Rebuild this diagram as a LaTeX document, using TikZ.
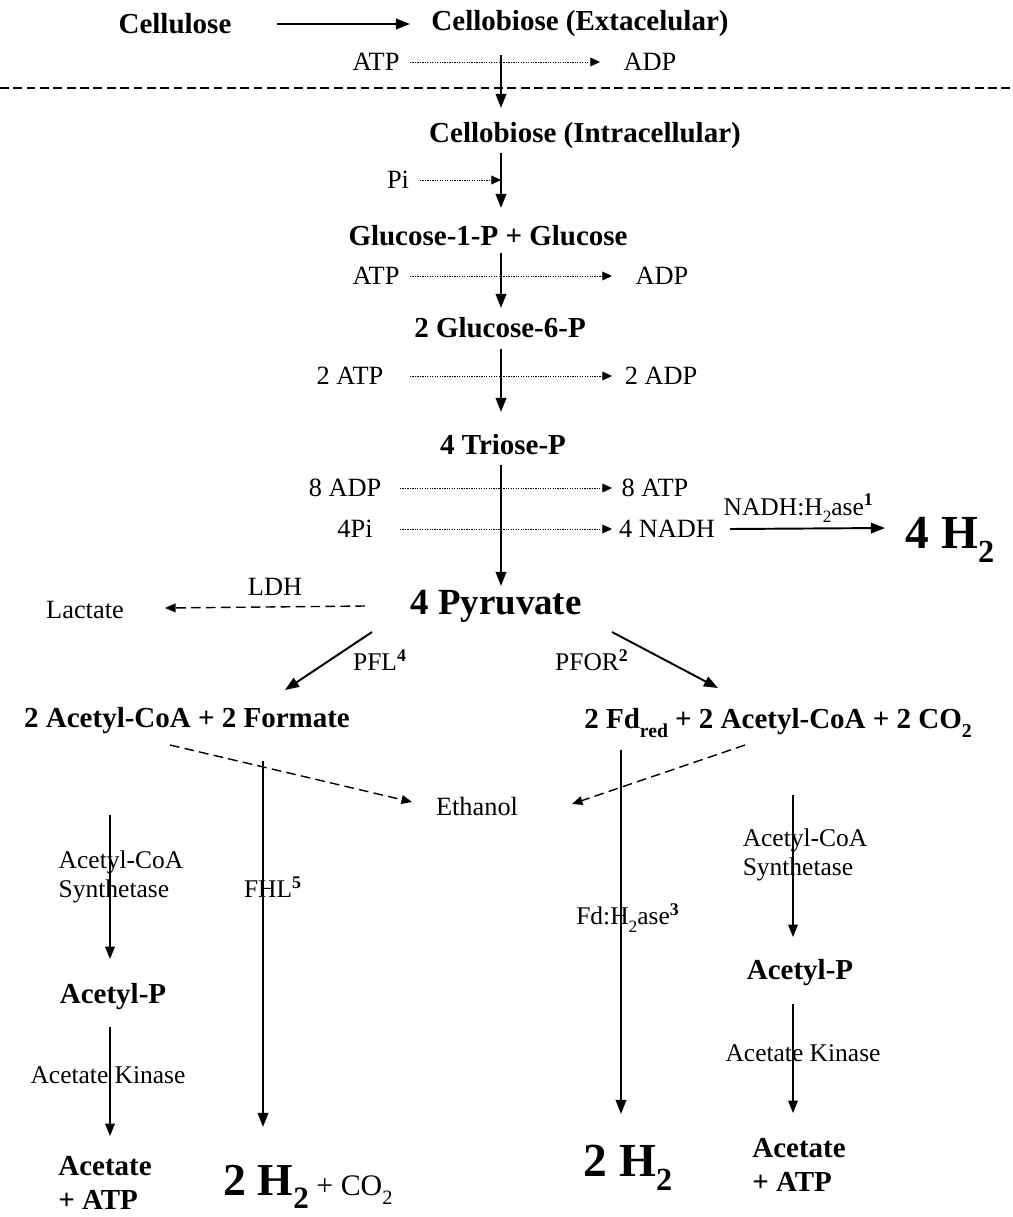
\documentclass[tikz,border=0pt]{standalone}
\usepackage{fontspec}
\setmainfont{Liberation Serif}
\usetikzlibrary{arrows.meta,positioning,calc}
\newcommand\lowr[1]{\raisebox{-0.62ex}{\scalebox{0.68}{#1}}}
\tikzset{
  cpd/.style={font=\bfseries\fontsize{16.5}{19}\selectfont,inner sep=2pt,align=left},
  pyrv/.style={font=\bfseries\fontsize{21}{24}\selectfont,inner sep=2pt},
  hyd/.style={font=\bfseries\fontsize{27}{30}\selectfont,inner sep=2pt},
  cof/.style={font=\fontsize{15}{17}\selectfont,inner sep=2pt},
  enz/.style={font=\fontsize{14.5}{16.5}\selectfont,inner sep=1pt,align=left},
  rxn/.style={-{Triangle[length=8pt,width=6pt]},line width=1.1pt},
  slim/.style={-{Triangle[length=7pt,width=5.5pt]},line width=0.6pt},
  dots/.style={-{Triangle[length=5.5pt,width=5pt]},line width=0.5pt,dash pattern=on 0.7pt off 0.7pt},
  alt/.style={-{Triangle[length=6pt,width=5pt]},line width=0.8pt,dash pattern=on 5.5pt off 3pt},
}
\begin{document}
\begin{tikzpicture}[x=0.02cm,y=-0.02cm]
  \useasboundingbox (0,0) rectangle (1012,1217);
  \coordinate (axis) at (501,0);

  % uptake of cellobiose
  \node[cpd] (cellu) at (175,24) {Cellulose};
  \node[cpd] (cbx) at (580,24) {Cellobiose (Extacelular)};
  \draw[rxn] ($(cellu)+(102,0)$) -- ($(cbx)+(-170,0)$);
  \node[cof] (atp1) at (376,62) {ATP};
  \node[cof] (adp1) at (650,62) {ADP};
  \draw[dashed,line width=0.6pt,dash pattern=on 5pt off 2.6pt] (0,88) -- (1012,88);
  \node[cpd] (cbi) at (585,136) {Cellobiose (Intracellular)};
  \draw[rxn] ($(cbx -| axis)+(0,31)$) -- ($(cbi -| axis)+(0,-28)$);
  \draw[dots] ($(atp1)+(34,0)$) -- ($(adp1)+(-50,0)$);

  % glycolysis
  \node[cof] (pi) at (398,180) {Pi};
  \node[cpd] (g1p) at (488,236) {Glucose-1-P + Glucose};
  \draw[rxn] ($(cbi -| axis)+(0,17)$) -- ($(g1p -| axis)+(0,-28)$);
  \draw[dots] ($(pi)+(22,0)$) -- (pi -| axis);
  \node[cof] (atp2) at (376,276) {ATP};
  \node[cof] (adp2) at (662,276) {ADP};
  \node[cpd] (g6p) at (500,328) {2 Glucose-6-P};
  \draw[rxn] ($(g1p -| axis)+(0,17)$) -- ($(g6p -| axis)+(0,-20)$);
  \draw[dots] ($(atp2)+(34,0)$) -- ($(adp2)+(-50,0)$);
  \node[cof] (atp3) at (350,376) {2 ATP};
  \node[cof] (adp3) at (661,376) {2 ADP};
  \node[cpd] (tri) at (503,445) {4 Triose-P};
  \draw[rxn] ($(g6p -| axis)+(0,21)$) -- ($(tri -| axis)+(0,-33)$);
  \draw[dots] ($(atp3)+(60,0)$) -- ($(adp3)+(-49,0)$);
  \node[cof] (adp4) at (345,488) {8 ADP};
  \node[cof] (atp4) at (655,488) {8 ATP};
  \node[cof] (pi4) at (355,529) {4Pi};
  \node[cof] (nadh) at (667,529) {4 NADH};
  \node[hyd] (h2a) at (950,540) {4 H\lowr{2}};
  \draw[rxn] ($(nadh)+(63,0)$) -- ($(h2a)+(-65,-12)$)
    node[enz,midway,above=2pt,xshift=-5pt] (nadhase) {NADH:H\lowr{2}ase\textsuperscript{\bfseries 1}};
  \node[pyrv] (pyr) at (496,606) {4 Pyruvate};
  \draw[rxn] ($(tri -| axis)+(0,20)$) -- ($(pyr -| axis)+(0,-20)$);
  \draw[dots] ($(adp4)+(55,0)$) -- ($(atp4)+(-43,0)$);
  \draw[dots] ($(pi4)+(45,0)$) -- ($(nadh)+(-55,0)$);

  % pyruvate branches
  \node[cof] (lac) at (85,610) {Lactate};
  \node[cof] (ldh) at (275,587) {LDH};
  \draw[alt] ($(pyr)+(-131,0)$) -- ($(lac)+(80,-2)$);
  \node[enz] (pfl) at (380,660) {PFL\textsuperscript{\bfseries 4}};
  \node[enz] (pfor) at (592,660) {PFOR\textsuperscript{\bfseries 2}};
  \node[cpd] (acf) at (187,721) {2 Acetyl-CoA + 2 Formate};
  \node[cpd] (fdr) at (778,723) {2 Fd\lowr{red} + 2 Acetyl-CoA + 2 CO\lowr{2}};
  \draw[rxn] ($(pyr)+(-124,26)$) -- ($(acf)+(98,-31)$);
  \draw[rxn] ($(pyr)+(116,26)$) -- ($(fdr)+(-60,-35)$);
  \node[cof] (eth) at (477,806) {Ethanol};
  \draw[alt] ($(acf)+(-17,24)$) -- ($(eth)+(-65,-4)$);
  \draw[alt] ($(fdr)+(-33,22)$) -- ($(eth)+(95,-2)$);

  % formate hydrogen lyase
  \node[enz] (fhl) at (273,887) {FHL\textsuperscript{\bfseries 5}};
  \node[hyd,font=\bfseries\fontsize{26}{30}\selectfont] (h2f) at (308,1187)
    {2 H\lowr{2}\,\fontsize{17}{20}\mdseries\selectfont + CO\lowr{2}};
  \draw[rxn] ($(acf -| fhl)+(-10,40)$) -- ($(h2f -| fhl)+(-10,-60)$);

  % ferredoxin hydrogenase
  \node[enz] (fdh) at (628,918) {Fd:H\lowr{2}ase\textsuperscript{\bfseries 3}};
  \node[hyd] (h2d) at (628,1168) {2 H\lowr{2}};
  \draw[rxn] ($(fdr -| fdh)+(-7,27)$) -- ($(h2d -| fdh)+(-7,-54)$);

  % acetate branch, formate side
  \node[enz] (acsl) at (121,877) {Acetyl-CoA\\Synthetase};
  \node[cpd] (acpl) at (113,997) {Acetyl-P};
  \node[enz] (akl) at (108,1075) {Acetate Kinase};
  \node[cpd] (acl) at (105,1183) {Acetate\\+ ATP};
  \draw[slim] ($(acsl)+(-11,-62)$) -- ($(acpl)+(-3,-38)$);
  \draw[slim] ($(acpl)+(-3,30)$) -- ($(acl)+(5,-47)$);

  % acetate branch, ferredoxin side
  \node[enz] (acsr) at (805,855) {Acetyl-CoA\\Synthetase};
  \node[cpd] (acpr) at (800,973) {Acetyl-P};
  \node[enz] (akr) at (803,1053) {Acetate Kinase};
  \node[cpd] (acr) at (799,1165) {Acetate\\+ ATP};
  \draw[slim] ($(acsr)+(-12,-60)$) -- ($(acpr)+(-7,-36)$);
  \draw[slim] ($(acpr)+(-7,31)$) -- ($(acr)+(-6,-52)$);
\end{tikzpicture}
\end{document}
